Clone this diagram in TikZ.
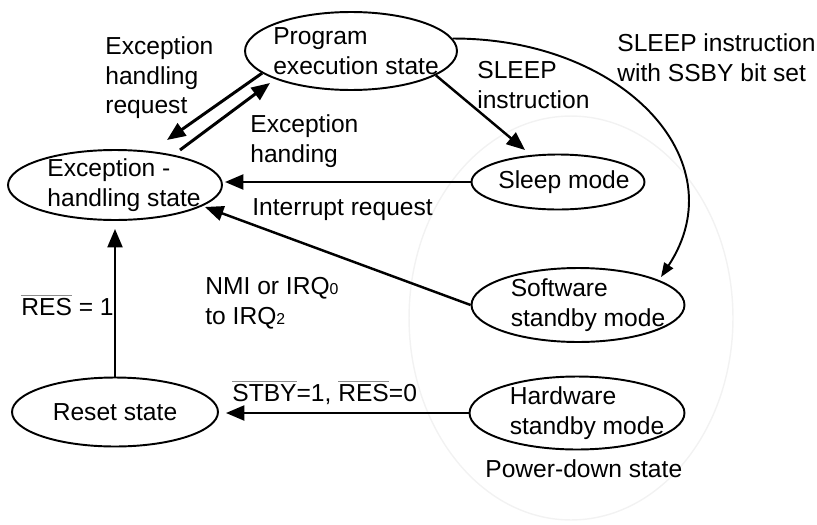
\documentclass[tikz,border=0pt]{standalone}
\usepackage{fontspec}
\setmainfont{Liberation Sans}
\usetikzlibrary{shapes.geometric,arrows.meta,calc}
\tikzset{
  state/.style={draw, ellipse, line width=1.1pt, inner sep=0pt},
  flow/.style={-{Triangle[length=10.5pt,width=8.5pt]}, line width=1.4pt},
  curvy/.style={-{Triangle[length=8pt,width=6pt]}, line width=1.1pt},
  txt/.style={anchor=north west, align=left, inner sep=0pt},
}
\newcommand{\negsig}[1]{{\color{black!45}$\overline{\mbox{\color{black}#1}}$}}
\newcommand{\subdig}[1]{{\fontsize{9}{9}\selectfont #1}}
\begin{document}
\begin{tikzpicture}[x=0.02cm, y=-0.02cm, font=\fontsize{14}{17}\selectfont]
            \useasboundingbox (0,0) rectangle (817,524);
            % power-down region
            \node[ellipse, draw=black!5, line width=0.8pt, minimum width=6.48cm, minimum height=8.08cm] (pdown) at (571,318) {};

            \node[state, minimum width=4.24cm, minimum height=1.56cm, label={[align=left, xshift=0.1cm]center:Program\\execution state}] (prog) at (351,51) {};
            \node[state, minimum width=4.28cm, minimum height=1.4cm, label={[align=left, xshift=0.18cm]center:Exception -\\handling state}] (exc) at (115,185) {};
            \node[state, minimum width=3.46cm, minimum height=1.1cm, label={[xshift=0.12cm]center:Sleep mode}] (sleep) at (558,182) {};
            \node[state, minimum width=4.26cm, minimum height=1.48cm, label={[align=left, xshift=0.2cm]center:Software\\standby mode}] (soft) at (578,305) {};
            \node[state, minimum width=4.3cm, minimum height=1.46cm, label={[align=left, xshift=0.2cm]center:Hardware\\standby mode}] (hard) at (577,413) {};
            \node[state, minimum width=4.12cm, minimum height=1.38cm, label={center:Reset state}] (reset) at (115,412) {};

            \draw[flow, line width=1.7pt] (prog.194) -- ($(exc)+(52,-45)$);
            \draw[flow, line width=1.7pt] ($(exc)+(65,-35)$) -- ($(prog)+(-81,32)$);
            \draw[flow] (prog.-16) -- ($(sleep)+(-33,-32)$);
            \draw[flow] (sleep.west) -- ($(sleep.west -| exc.east)+(2,0)$);
            \draw[flow] (soft.west) -- ($(exc)+(90,22)$);
            \draw[flow] (reset.north) -- ($(exc.south)+(0,8)$);
            \draw[flow] (hard.west) -- ($(hard.west -| reset.east)+(7,0)$);
            \draw[curvy] (prog.7) .. controls (622,38) and (738,160) .. ($(soft)+(83,-28)$);

            \node[txt] (lreq) at (105,36) {Exception\\handling\\request};
            \node[txt] (lhdl) at (250,114) {Exception\\handing};
            \node[txt] (lint) at (252,198) {Interrupt request};
            \node[txt] (lslp) at (477,61) {SLEEP\\instruction};
            \node[txt] (lssby) at (617,33) {SLEEP instruction\\with SSBY bit set};
            \node[txt] (lnmi) at (205,277) {NMI or IRQ\subdig{0}\\to IRQ\subdig{2}};
            \node[txt, anchor=base west] (lres) at (21,315) {\negsig{RES} = 1};
            \node[txt, anchor=base west] (lstby) at (232,401) {\negsig{STBY}=1, \negsig{RES}=0};
            \node[txt] (lpd) at (485,459) {Power-down state};
\end{tikzpicture}
\end{document}
